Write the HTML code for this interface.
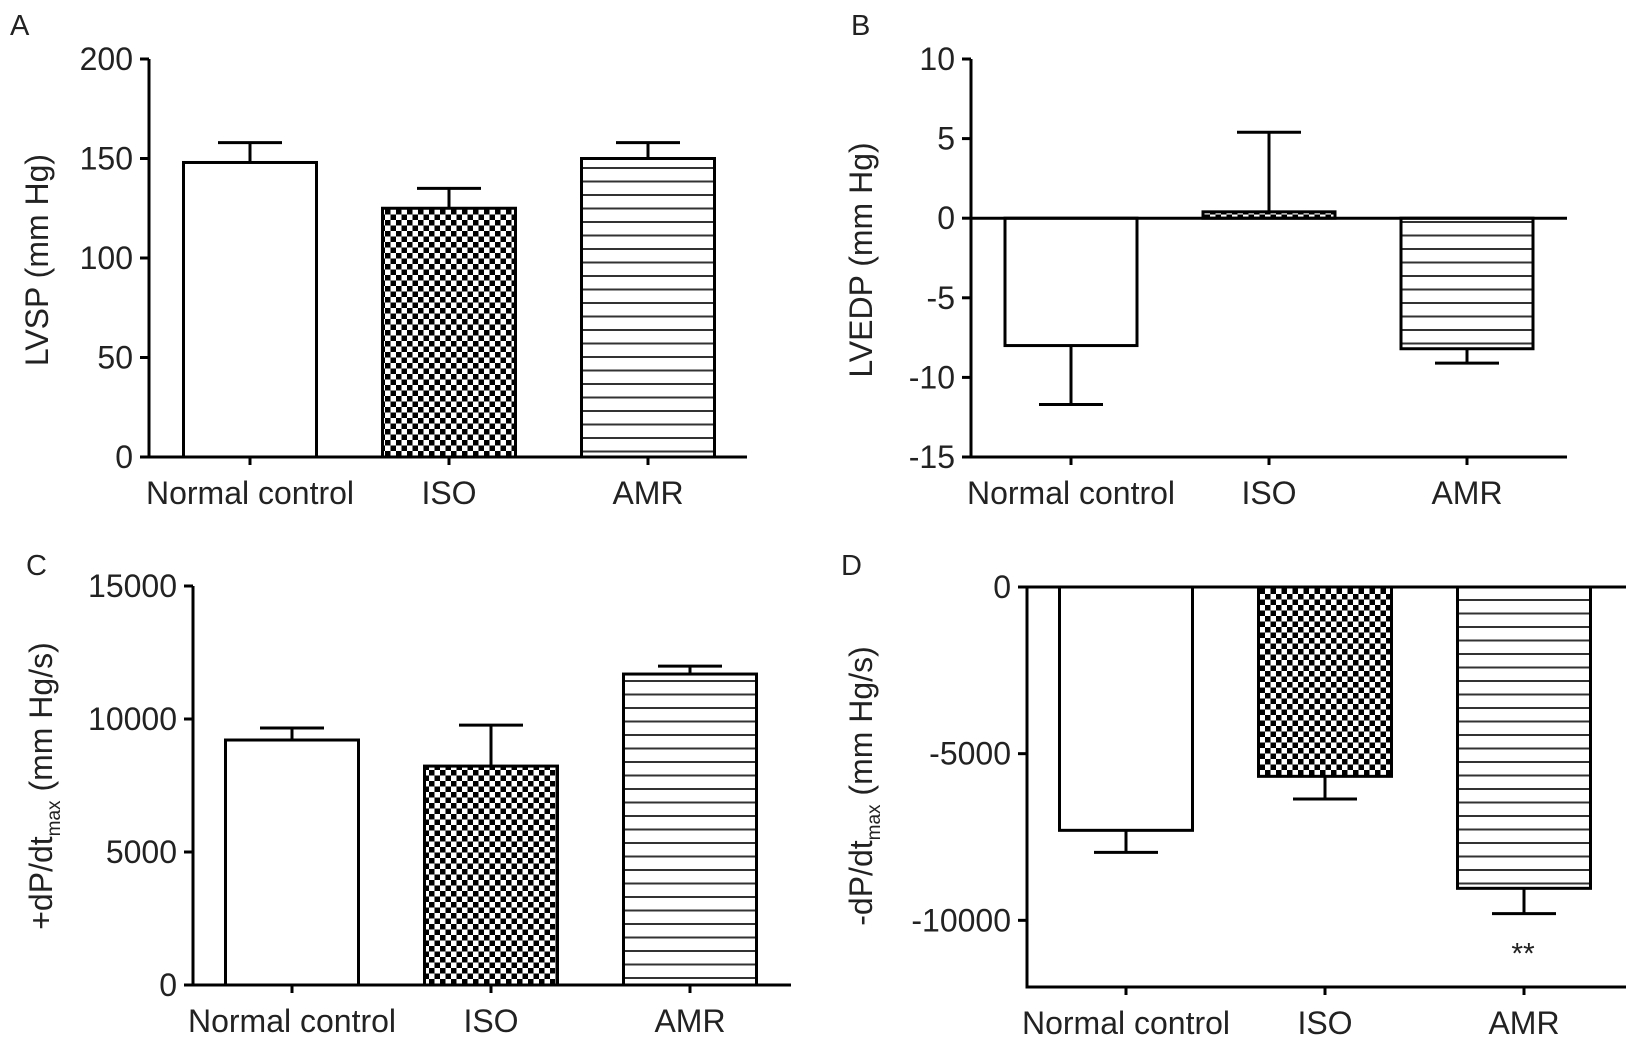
<!DOCTYPE html>
<html><head><meta charset="utf-8"><style>
html,body{margin:0;padding:0;background:#fff}
svg{display:block}
text{font-family:"Liberation Sans",Arial,sans-serif;fill:#222}
</style></head><body>
<svg id="fig" width="1638" height="1044" viewBox="0 0 1638 1044" xmlns="http://www.w3.org/2000/svg">
<defs>
<pattern id="checker" patternUnits="userSpaceOnUse" width="11" height="11">
<rect width="11" height="11" fill="#fff"/><rect width="5.5" height="5.5" fill="#000"/><rect x="5.5" y="5.5" width="5.5" height="5.5" fill="#000"/>
</pattern>
<pattern id="stripes" patternUnits="userSpaceOnUse" width="10" height="13.5">
<rect width="10" height="13.5" fill="#fff"/><rect y="5" width="10" height="2" fill="#333"/>
</pattern>
</defs>
<g id="root"></g>
</svg>
<script>
const categories = ["Normal control","ISO","AMR"];
const aValues = [148,125,150];
const aErrors = [158,135,158];
const aTicks = [0,50,100,150,200];
const bValues = [-8.0,0.4,-8.2];
const bErrors = [-11.7,5.4,-9.1];
const bTicks = [-15,-10,-5,0,5,10];
const cValues = [9210,8230,11690];
const cErrors = [9660,9770,11990];
const cTicks = [0,5000,10000,15000];
const dValues = [-7300,-5680,-9040];
const dErrors = [-7960,-6360,-9800];
const dTicks = [-10000,-5000,0];

const NS="http://www.w3.org/2000/svg";
const root=document.getElementById('root');
const fills=["#fff","url(#checker)","url(#stripes)"];
function mk(tag,attrs,parent){const e=document.createElementNS(NS,tag);for(const k in attrs)e.setAttribute(k,attrs[k]);(parent||root).appendChild(e);return e;}

function panel(cfg){
  const g=mk('g',{});
  
  
  const y=v=>cfg.y0+(v-cfg.min)/(cfg.max-cfg.min)*(cfg.y1-cfg.y0);
  const lt=mk('text',{x:cfg.lx,y:cfg.ly,'font-size':29},g);lt.textContent=cfg.letter;
  
  
  cfg.values.forEach((v,i)=>{
    const cx=cfg.cx0+i*cfg.step, w=cfg.bw;
    const top=Math.min(y(v),y(cfg.base)), h=Math.abs(y(v)-y(cfg.base));
    const r=mk('rect',{x:cx-w/2,y:top,width:w,height:h,fill:fills[i],stroke:'#000','stroke-width':3},g);
    
    
    const ey=y(cfg.errors[i]);
    const e=mk('path',{d:`M${cx},${y(v)}V${ey}M${cx-32},${ey}H${cx+32}`,stroke:'#000','stroke-width':3,fill:'none'},g);
    
    
    const tk=mk('path',{d:`M${cx},${cfg.y0}v8`,stroke:'#000','stroke-width':3},g);
    
    
    const t=mk('text',{x:cx,y:cfg.y0+47,'font-size':32,'text-anchor':'middle'},g);t.textContent=categories[i];
    
    
  });
  const ya=mk('path',{d:`M${cfg.ax},${cfg.y0+1.5}V${cfg.y1}`,stroke:'#000','stroke-width':3},g);
  
  
  cfg.hlines.forEach(v=>{
    const l=mk('path',{d:`M${cfg.ax},${y(v)}H${cfg.xr}`,stroke:'#000','stroke-width':3},g);
    
    
  });
  cfg.ticks.forEach(v=>{
    const tk=mk('path',{d:`M${cfg.ax-9},${y(v)}H${cfg.ax}`,stroke:'#000','stroke-width':3},g);
    
    
    const t=mk('text',{x:cfg.ax-16,y:y(v)+11,'font-size':32,'text-anchor':'end'},g);t.textContent=v;
    
    
  });
  const tt=mk('text',{transform:`translate(${cfg.tx},${cfg.ty}) rotate(-90)`,'font-size':32,'text-anchor':'middle'},g);
  tt.innerHTML=cfg.title;
  
  
  return {g,y};
}
panel({id:'a',letter:'A',lx:10,ly:35,values:aValues,errors:aErrors,ticks:aTicks,min:0,max:200,base:0,y0:457,y1:59,ax:149,xr:747,cx0:250,step:199,bw:133,hlines:[0],tx:48,ty:260,title:'LVSP (mm Hg)'});
panel({id:'b',letter:'B',lx:851,ly:35,values:bValues,errors:bErrors,ticks:bTicks,min:-15,max:10,base:0,y0:457,y1:59,ax:971,xr:1567,cx0:1071,step:198,bw:132,hlines:[0,-15],tx:872,ty:260,title:'LVEDP (mm Hg)'});
panel({id:'c',letter:'C',lx:26,ly:575,values:cValues,errors:cErrors,ticks:cTicks,min:0,max:15000,base:0,y0:985,y1:586,ax:193,xr:791,cx0:292,step:199,bw:133,hlines:[0],tx:52,ty:786,title:'+dP/dt<tspan font-size="19" dy="8">max</tspan><tspan dy="-8"> (mm Hg/s)</tspan>'});
const d=panel({id:'d',letter:'D',lx:841,ly:575,values:dValues,errors:dErrors,ticks:dTicks,min:-12000,max:0,base:0,y0:987,y1:587,ax:1027,xr:1626,cx0:1126,step:199,bw:133,hlines:[0,-12000],tx:872,ty:786,title:'-dP/dt<tspan font-size="19" dy="8">max</tspan><tspan dy="-8"> (mm Hg/s)</tspan>'});
const st=mk('text',{x:1523,y:d.y(dErrors[2])+50,'font-size':30,'text-anchor':'middle'},d.g);st.textContent='**';


</script>
</body></html>
